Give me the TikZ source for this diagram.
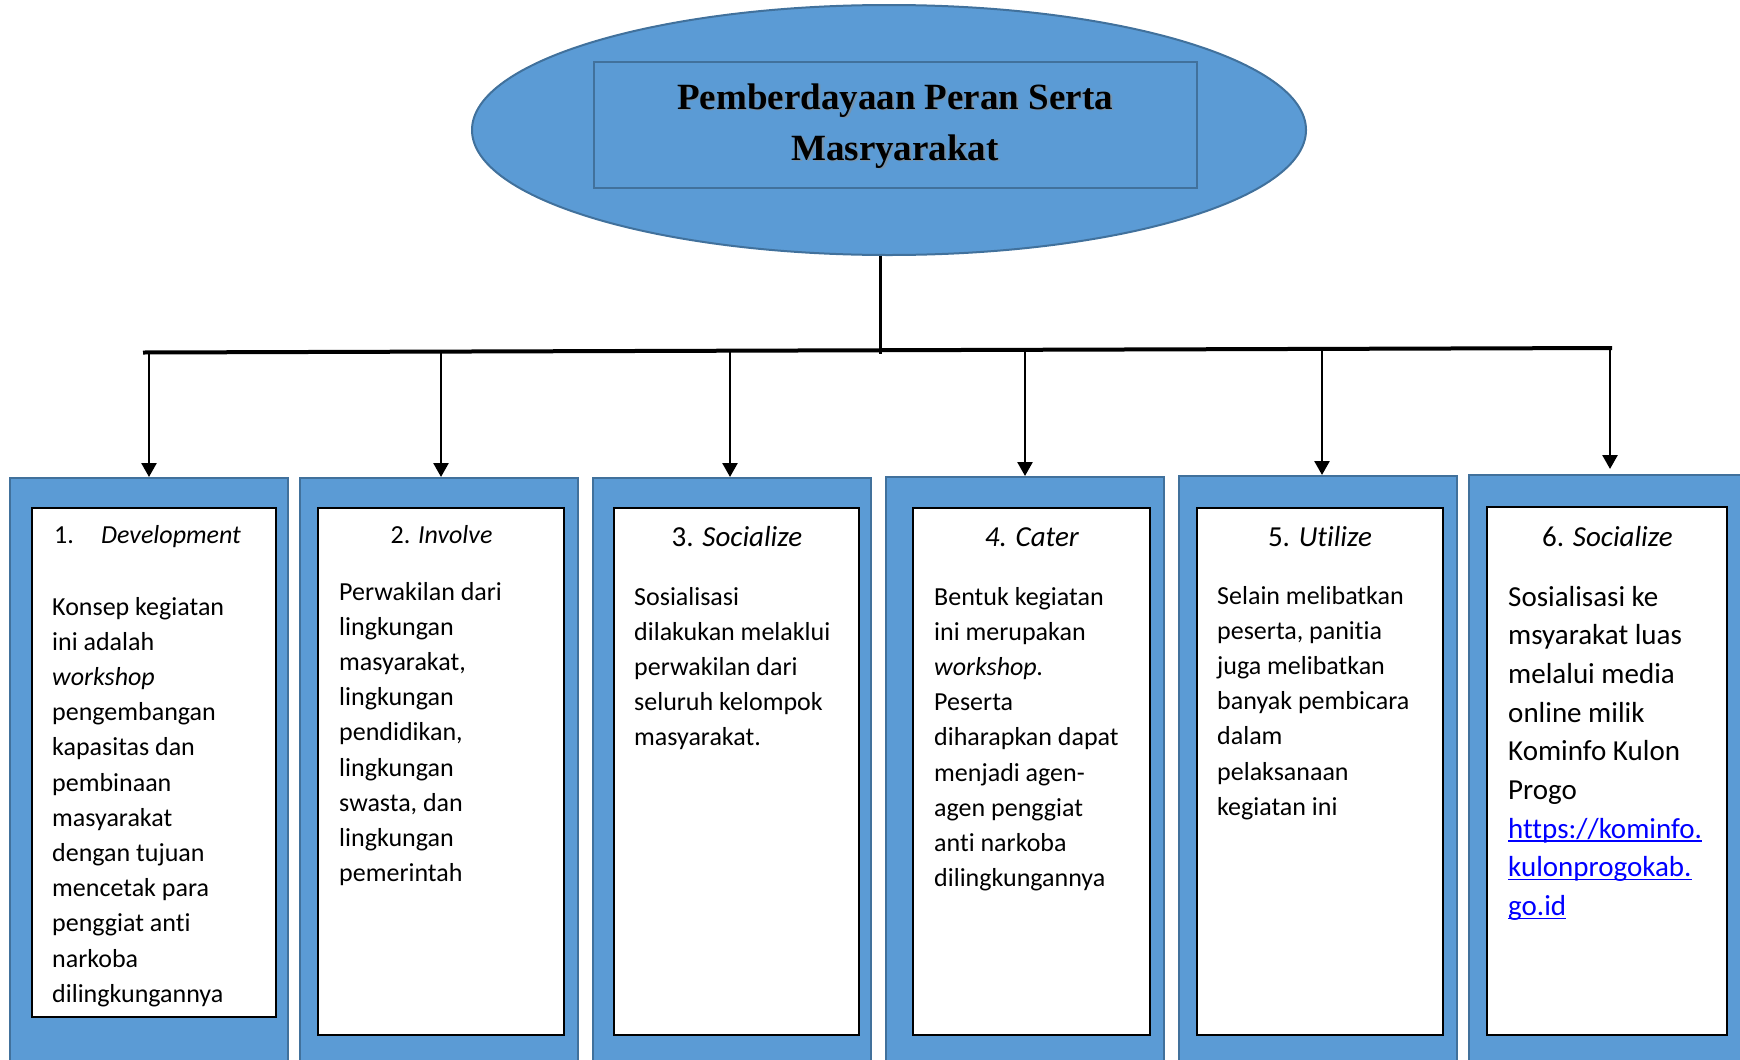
\documentclass[tikz,border=0pt]{standalone}
\usepackage{fontspec}
\setmainfont{Carlito}[Ligatures={NoCommon}]
\newfontfamily\ttlfont{Liberation Serif}
\usetikzlibrary{shapes.geometric,arrows.meta,fit}
\definecolor{boxblue}{HTML}{5B9BD5}
\definecolor{edgeblue}{HTML}{41719C}
\definecolor{linkblue}{HTML}{0000FF}
\newcommand\lnkul[1]{\setbox0\hbox{#1}\rlap{\rule[-3.5bp]{\wd0}{1.6bp}}\box0}
\begin{document}
\begin{tikzpicture}[x=1bp,y=-1bp,
  outerbox/.style={draw=edgeblue,line width=2bp,fill=boxblue,inner sep=0pt},
  innerbox/.style={draw=black,line width=1.8bp,fill=white,inner sep=0pt},
  ellbox/.style={ellipse,draw=edgeblue,line width=2bp,fill=boxblue,inner sep=0pt,minimum width=834bp,minimum height=250bp},
  ttlbox/.style={draw=edgeblue,line width=2.2bp,fill=boxblue,inner sep=0pt},
  ttltext/.style={inner sep=0pt,anchor=base,font=\ttlfont\bfseries\fontsize{37bp}{51bp}\selectfont},
  bodytext/.style={inner sep=0pt,anchor=base west,font=\fontsize{26bp}{35.2bp}\selectfont},
  bigtext/.style={inner sep=0pt,anchor=base west,font=\fontsize{29bp}{38.7bp}\selectfont},
  hdrsmall/.style={inner sep=0pt,anchor=base,font=\fontsize{26bp}{32bp}\selectfont},
  hdrbig/.style={inner sep=0pt,anchor=base,font=\fontsize{29bp}{35bp}\selectfont},
  barline/.style={line width=4bp,draw=black},
  stemline/.style={line width=3bp,draw=black},
  arr/.style={line width=2.6bp,draw=black,-{Triangle[width=15bp,length=14bp]}}
]
\useasboundingbox (0,0) rectangle (1740,1059);
\clip (0,0) rectangle (1740,1059);

% title ellipse and rectangle
\node[ellbox] (ell) at (889,130) {};
\node[ttlbox,fit={(594,62) (1197,188)}] (title) {};
\node[ttltext,text=black!45,opacity=0.6] (ttlshadow) at (896.8,110.8)
  {\parbox[t]{600bp}{\centering Pemberdayaan Peran Serta\\Masryarakat}};
\node[ttltext] (ttl) at (895,109)
  {\parbox[t]{600bp}{\centering Pemberdayaan Peran Serta\\Masryarakat}};

% outer boxes
\node[outerbox,fit={(10,478) (288,1080)}] (b1) {};
\node[outerbox,fit={(300,478) (578,1080)}] (b2) {};
\node[outerbox,fit={(593,478) (871,1080)}] (b3) {};
\node[outerbox,fit={(886,477) (1164,1080)}] (b4) {};
\node[outerbox,fit={(1179,476) (1457,1080)}] (b5) {};
\node[outerbox,fit={(1469,475) (1770,1080)}] (b6) {};

% inner boxes
\node[innerbox,fit={(32,508) (276,1017)}] (w1) {};
\node[innerbox,fit={(318,508) (564,1035)}] (w2) {};
\node[innerbox,fit={(614,508) (859,1035)}] (w3) {};
\node[innerbox,fit={(913,508) (1150,1035)}] (w4) {};
\node[innerbox,fit={(1197,508) (1443,1035)}] (w5) {};
\node[innerbox,fit={(1487,507) (1727,1035)}] (w6) {};

% headers
\node[bodytext] (h1) at (54,543) {\makebox[47bp][l]{1.}\textit{Development}};
\node[hdrsmall] (h2) at (441.5,543) {2. \textit{Involve}};
\node[hdrbig] (h3) at (737,546) {3. \textit{Socialize}};
\node[hdrbig] (h4) at (1032,546) {\textit{4. Cater}};
\node[hdrbig] (h5) at (1320,546) {5. \textit{Utilize}};
\node[hdrbig] (h6) at (1607.5,546) {6. \textit{Socialize}};

% body texts
\node[bodytext] (t1) at (52,615) {\parbox[t]{260bp}{\raggedright
  Konsep kegiatan\\ini adalah\\\textit{workshop}\\pengembangan\\kapasitas dan\\pembinaan\\masyarakat\\dengan tujuan\\mencetak para\\penggiat anti\\narkoba\\dilingkungannya}};
\node[bodytext] (t2) at (339,600) {\parbox[t]{260bp}{\raggedright
  Perwakilan dari\\lingkungan\\masyarakat,\\lingkungan\\pendidikan,\\lingkungan\\swasta, dan\\lingkungan\\pemerintah}};
\node[bodytext] (t3) at (634,605) {\parbox[t]{260bp}{\raggedright
  Sosialisasi\\dilakukan melaklui\\perwakilan dari\\seluruh kelompok\\masyarakat.}};
\node[bodytext] (t4) at (934,605) {\parbox[t]{260bp}{\raggedright
  Bentuk kegiatan\\ini merupakan\\\textit{workshop.}\\Peserta\\diharapkan dapat\\menjadi agen-\\agen penggiat\\anti narkoba\\dilingkungannya}};
\node[bodytext] (t5) at (1217,604) {\parbox[t]{260bp}{\raggedright
  Selain melibatkan\\peserta, panitia\\juga melibatkan\\banyak pembicara\\dalam\\pelaksanaan\\kegiatan ini}};
\node[bigtext] (t6) at (1508,606) {\parbox[t]{260bp}{\raggedright
  Sosialisasi ke\\msyarakat luas\\melalui media\\online milik\\Kominfo Kulon\\Progo\\
  \textcolor{linkblue}{\lnkul{https://kominfo.}}\\
  \textcolor{linkblue}{\lnkul{kulonprogokab.}}\\
  \textcolor{linkblue}{\lnkul{go.id}}}};

% connectors
\coordinate (jc) at (880,351);
\coordinate (jl) at (143,352.5);
\coordinate (jr) at (1612,348);
\coordinate (a1) at (149,352.5);
\coordinate (a2) at (441,351.6);
\coordinate (a3) at (730,350.7);
\coordinate (a4) at (1025,349.8);
\coordinate (a5) at (1322,348.9);
\coordinate (a6) at (1610,348);
\draw[stemline] (ell.south -| jc) -- ([yshift=-3bp]jc);
\draw[barline] (jl) -- (jr);
\draw[arr] (a1) -- (a1 |- b1.north);
\draw[arr] (a2) -- (a2 |- b2.north);
\draw[arr] (a3) -- (a3 |- b3.north);
\draw[arr] (a4) -- (a4 |- b4.north);
\draw[arr] (a5) -- (a5 |- b5.north);
\draw[arr,shorten >=5bp] (a6) -- (a6 |- b6.north);
\end{tikzpicture}
\end{document}
